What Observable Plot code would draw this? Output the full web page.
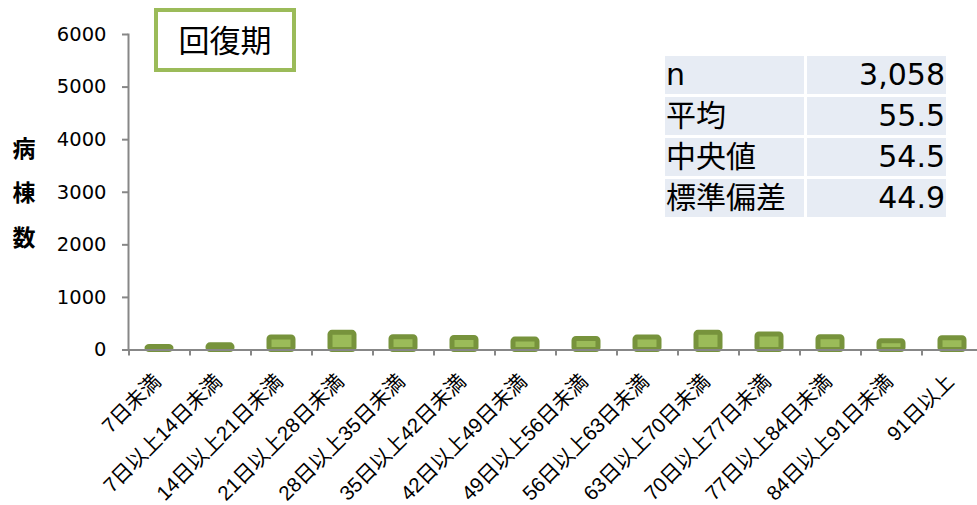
<!DOCTYPE html>
<html><head><meta charset="utf-8">
<script src="https://cdn.jsdelivr.net/npm/d3@7"></script>
<script src="https://cdn.jsdelivr.net/npm/@observablehq/plot@0.6"></script>
<style>
body{margin:0;background:#fff;}
#wrap{position:relative;width:977px;height:505px;overflow:hidden;background:#fff;}
#wrap svg{position:absolute;left:0;top:0;}
.ytitle{position:absolute;width:30px;text-align:center;font:bold 23px "Noto Sans CJK JP",sans-serif;color:#000;line-height:30px;}
.panel{position:absolute;left:154px;top:8px;width:142px;height:64px;box-sizing:border-box;border:4px solid #9BBB59;font:31px "Noto Sans CJK JP",sans-serif;text-align:center;line-height:54px;color:#000;}
.cell{position:absolute;height:38px;background:#E7ECF4;font:30px "DejaVu Sans","Noto Sans CJK JP",sans-serif;line-height:38px;color:#000;white-space:nowrap;}
</style></head><body><div id="wrap"></div>
<script>
const categories = ["7日未満","7日以上14日未満","14日以上21日未満","21日以上28日未満","28日以上35日未満","35日以上42日未満","42日以上49日未満","49日以上56日未満","56日以上63日未満","63日以上70日未満","70日以上77日未満","77日以上84日未満","84日以上91日未満","91日以上"];
const counts = [56, 88, 238, 326, 242, 229, 198, 210, 236, 326, 294, 242, 166, 223];
const yTicks = [0, 1000, 2000, 3000, 4000, 5000, 6000];
const yTitleChars = ["病", "棟", "数"];
const panelTitle = "回復期";
const statLabels = ["n", "平均", "中央値", "標準偏差"];
const statValues = ["3,058", "55.5", "54.5", "44.9"];

const data = categories.map((c, i) => ({cat: c, count: counts[i]}));
const plotTop = 34, plotBottom = 349.5;
const tickLen = 6 * 6000 / (plotBottom - plotTop);

const chart = Plot.plot({
  width: 977, height: 505,
  marginTop: plotTop, marginBottom: 505 - plotBottom, marginLeft: 128, marginRight: 0,
  style: {background: "transparent", fontFamily: "'Liberation Sans', Arial, sans-serif", color: "#000"},
  x: {type: "band", domain: categories, range: [129, 983], paddingInner: 0.6, paddingOuter: 0.3, axis: null},
  y: {domain: [0, 6000], axis: null},
  marks: [
    Plot.barY(data, {x: "cat", y: "count", fill: "#9BBB59", stroke: "#77933C", strokeWidth: 5, rx: 2}),
    Plot.ruleY([0], {stroke: "#878787", strokeWidth: 2, insetLeft: -6}),
    Plot.frame({anchor: "left", stroke: "#878787", strokeWidth: 2}),
    Plot.ruleX(categories, {x: d => d, y1: 0, y2: -tickLen, dx: -30.5, stroke: "#878787", strokeWidth: 2}),
    Plot.axisY({ticks: yTicks, label: null, tickSize: 6, tickPadding: 16, fontSize: 19.5, fontFamily: "'DejaVu Sans', sans-serif", tickFormat: d => String(d), stroke: "#878787", strokeWidth: 2, fill: "#000"}),
    Plot.text(categories, {x: d => d, y: 0, text: d => d, rotate: -45, textAnchor: "end", dx: -2, dy: 28, fontSize: 20.5, fill: "#000", fontFamily: "'Liberation Sans', 'Noto Sans CJK JP', sans-serif"})
  ]
});

const wrap = document.getElementById("wrap");
wrap.appendChild(chart);

const yCenters = [147, 191, 236];
yTitleChars.forEach((ch, i) => {
  const d = document.createElement("div");
  d.className = "ytitle";
  d.textContent = ch;
  d.style.left = "9px";
  d.style.top = (yCenters[i] - 15) + "px";
  wrap.appendChild(d);
});

const p = document.createElement("div");
p.className = "panel";
p.textContent = panelTitle;
wrap.appendChild(p);

const rowTops = [56, 97, 138, 179];
statLabels.forEach((lab, i) => {
  const a = document.createElement("div");
  a.className = "cell";
  a.style.left = "665px"; a.style.width = "139px"; a.style.top = rowTops[i] + "px";
  a.style.paddingLeft = "1px"; a.style.boxSizing = "border-box";
  a.textContent = lab;
  wrap.appendChild(a);
  const b = document.createElement("div");
  b.className = "cell";
  b.style.left = "807px"; b.style.width = "139px"; b.style.top = rowTops[i] + "px";
  b.style.textAlign = "right"; b.style.paddingRight = "1px"; b.style.boxSizing = "border-box";
  b.textContent = statValues[i];
  wrap.appendChild(b);
});
</script></body></html>
